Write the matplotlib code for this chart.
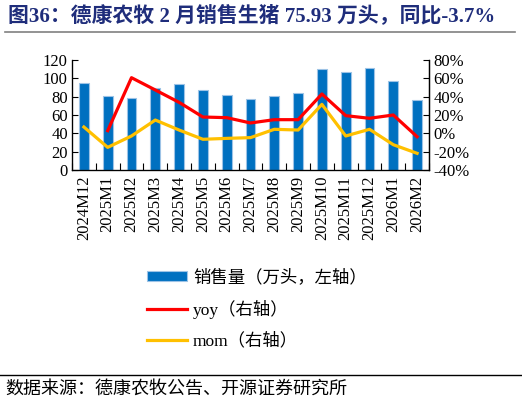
import matplotlib
matplotlib.use("Agg")
import matplotlib.pyplot as plt
import numpy as np
from matplotlib.patches import Patch
from matplotlib.lines import Line2D

categories = ["2024M12", "2025M1", "2025M2", "2025M3", "2025M4", "2025M5", "2025M6",
              "2025M7", "2025M8", "2025M9", "2025M10", "2025M11", "2025M12", "2026M1", "2026M2"]
sales = [95.3, 80.4, 78.5, 89.8, 93.5, 86.9, 81.8, 77.8, 81.1, 84.0, 109.8, 106.5, 110.9, 96.7, 75.93]
yoy = [np.nan, 2.9, 60.7, 47.3, 33.8, 17.8, 17.1, 11.3, 14.9, 14.9, 42.9, 19.3, 16.4, 20.0, -3.7]
mom = [6.9, -15.3, -2.9, 14.5, 3.6, -6.5, -5.5, -4.7, 4.4, 3.6, 31.6, -2.9, 4.4, -12.4, -21.8]
left_ticks = [0, 20, 40, 60, 80, 100, 120]
right_ticks = [-40, -20, 0, 20, 40, 60, 80]

title = "图36：德康农牧 2 月销售生猪 75.93 万头，同比-3.7%"
source = "数据来源：德康农牧公告、开源证券研究所"
leg_labels = ["销售量（万头，左轴）", "yoy（右轴）", "mom（右轴）"]

SERIF = ["Liberation Serif", "Noto Sans CJK SC"]
plt.rcParams["font.family"] = SERIF

W, H = 522, 405
fig = plt.figure(figsize=(W / 100, H / 100), dpi=100)

ax = fig.add_axes([72 / W, 1 - 170 / H, (429 - 72) / W, 110 / H])
x = np.arange(len(categories))
ax.bar(x, sales, width=0.42, color="#0070C0", edgecolor="#9DC3E6", linewidth=0.8, zorder=2)
ax.set_xlim(-0.5, len(categories) - 0.5)
ax.set_ylim(0, 120)
ax.set_yticks(left_ticks)
ax.set_yticklabels([str(v) for v in left_ticks], fontsize=12)
ax.set_xticks(x)
ax.set_xticklabels(categories, rotation=90, fontsize=12)
ax.tick_params(axis="x", which="major", length=0, pad=4)
ax.set_xticks(np.arange(-0.5, len(categories), 1.0), minor=True)
ax.tick_params(axis="x", which="minor", direction="in", length=5, width=0.8)
ax.tick_params(axis="y", direction="in", length=4, width=0.8, pad=3)
ax.spines["top"].set_visible(False)
for s in ["left", "bottom", "right"]:
    ax.spines[s].set_linewidth(0.9)

ax2 = ax.twinx()
ax2.plot(x, yoy, color="#FF0000", linewidth=2.3, zorder=3)
ax2.plot(x, mom, color="#FFC000", linewidth=2.3, zorder=3)
ax2.set_ylim(-40, 80)
ax2.set_yticks(right_ticks)
ax2.set_yticklabels([f"{v}%" for v in right_ticks], fontsize=12)
ax2.tick_params(axis="y", direction="in", length=4, width=0.8, pad=3)
ax2.spines["top"].set_visible(False)
ax2.spines["right"].set_linewidth(0.9)

handles = [Patch(facecolor="#0070C0", edgecolor="#9DC3E6", linewidth=0.8),
           Line2D([], [], color="#FF0000", linewidth=2.3),
           Line2D([], [], color="#FFC000", linewidth=2.3)]
fig.legend(handles, leg_labels, loc="upper left", bbox_to_anchor=(140 / W, 1 - 262 / H),
           frameon=False, prop={"family": SERIF, "size": 12.5}, handlelength=2.3,
           handleheight=0.5, handletextpad=0.35, labelspacing=0.8, borderaxespad=0)

fig.text(8 / W, 1 - 16 / H, title, fontsize=15, fontweight="bold", color="#1F2D7B",
         ha="left", va="center", family=SERIF)
fig.add_artist(Line2D([5 / W, 515 / W], [1 - 32 / H, 1 - 32 / H], color="#808080", linewidth=1.2))
fig.add_artist(Line2D([0, 1], [1 - 375 / H, 1 - 375 / H], color="black", linewidth=1.0))
fig.text(5 / W, 1 - 389 / H, source, fontsize=13, color="black", ha="left", va="center", family=SERIF)

fig.savefig("out.png", dpi=100)
